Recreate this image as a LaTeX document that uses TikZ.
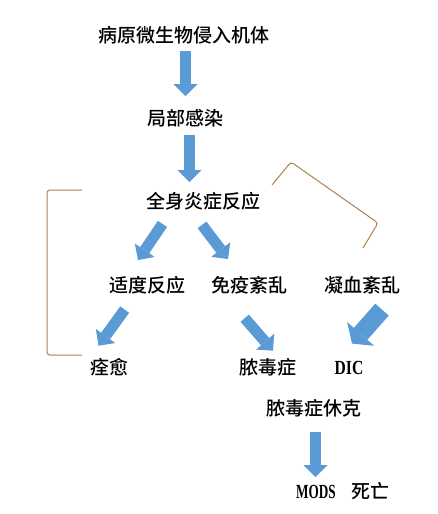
\documentclass[tikz,border=0pt]{standalone}
\usepackage{fontspec}
\setmainfont{Noto Sans CJK SC}[BoldFont={Noto Sans CJK SC Medium}]
\newfontfamily\latin{Liberation Serif}
\usetikzlibrary{arrows.meta}
\definecolor{arrowblue}{RGB}{91,155,213}
\definecolor{bracket}{RGB}{170,130,80}

\begin{document}
\begin{tikzpicture}[x=0.5pt,y=-0.5pt,
  txt/.style={inner sep=0pt,text height=7.5pt,text depth=0pt,font=\fontsize{9.5pt}{12pt}\selectfont\bfseries},
  lat/.style={inner sep=0pt,text height=6.5pt,text depth=0pt,font=\fontsize{10pt}{11pt}\selectfont\latin\bfseries},
  blk/.style={draw=arrowblue,line width=5.5pt,-{Triangle[width=12pt,length=6pt,line width=0pt]}},
  bigblk/.style={draw=arrowblue,line width=9pt,-{Triangle[width=18pt,length=6.5pt,line width=0pt]}},
  brk/.style={draw=bracket,line width=0.5pt,rounded corners=1.5pt}]
  \useasboundingbox (0,0) rectangle (438,514);
  % Stages of the infection
  \node[txt] (invade) at (184,35) {病原微生物侵入机体};
  \node[txt] (local) at (185,118) {局部感染};
  \node[txt] (sirs) at (203,201) {全身炎症反应};
  \node[txt] (modr) at (147,285) {适度反应};
  \node[txt] (immu) at (249,285) {免疫紊乱};
  \node[txt] (coag) at (362,285) {凝血紊乱};
  \node[txt] (heal) at (109,367) {痊愈};
  \node[txt] (seps) at (268,367) {脓毒症};
  \node[lat] (dic) at (349,367.5) {\scalebox{0.78}[1]{DIC}};
  \node[txt] (shock) at (314,408) {脓毒症休克};
  \node[lat] (end) at (343,492) {\scalebox{0.66}[1]{MODS}\hspace{8pt}{\fontsize{9.5pt}{12pt}\selectfont\rmfamily\bfseries 死亡}};
  % Block arrows
  \draw[blk] ([shift={(1.5,8)}]invade.south) -- ([shift={(0.5,-14)}]local.north);
  \draw[blk] ([shift={(4.5,9)}]local.south) -- ([shift={(-13.5,-11)}]sirs.north);
  \draw[blk] ([shift={(-40.5,15)}]sirs.south) -- ([shift={(-9,-17)}]modr.north);
  \draw[blk] ([shift={(-1,16)}]sirs.south) -- ([shift={(-21,-18)}]immu.north);
  \draw[blk] ([shift={(-22.3,16.7)}]modr.south) -- ([shift={(-10.5,-13.4)}]heal.north);
  \draw[blk] ([shift={(-4.3,25.3)}]immu.south) -- ([shift={(5,-8.4)}]seps.north);
  \draw[bigblk] ([shift={(20,16.7)}]coag.south) -- ([shift={(3,-17)}]dic.north);
  \draw[blk] ([shift={(1.5,16)}]shock.south) -- ([shift={(1.5,-8)}]shock.south |- end.north);
  % Brackets
  \draw[brk] (82,190) -- (47,190) -- (47,355) -- (82,355);
  \draw[brk] (272,185) -- (291,162) -- (378,223) -- (363,248);
\end{tikzpicture}
\end{document}
